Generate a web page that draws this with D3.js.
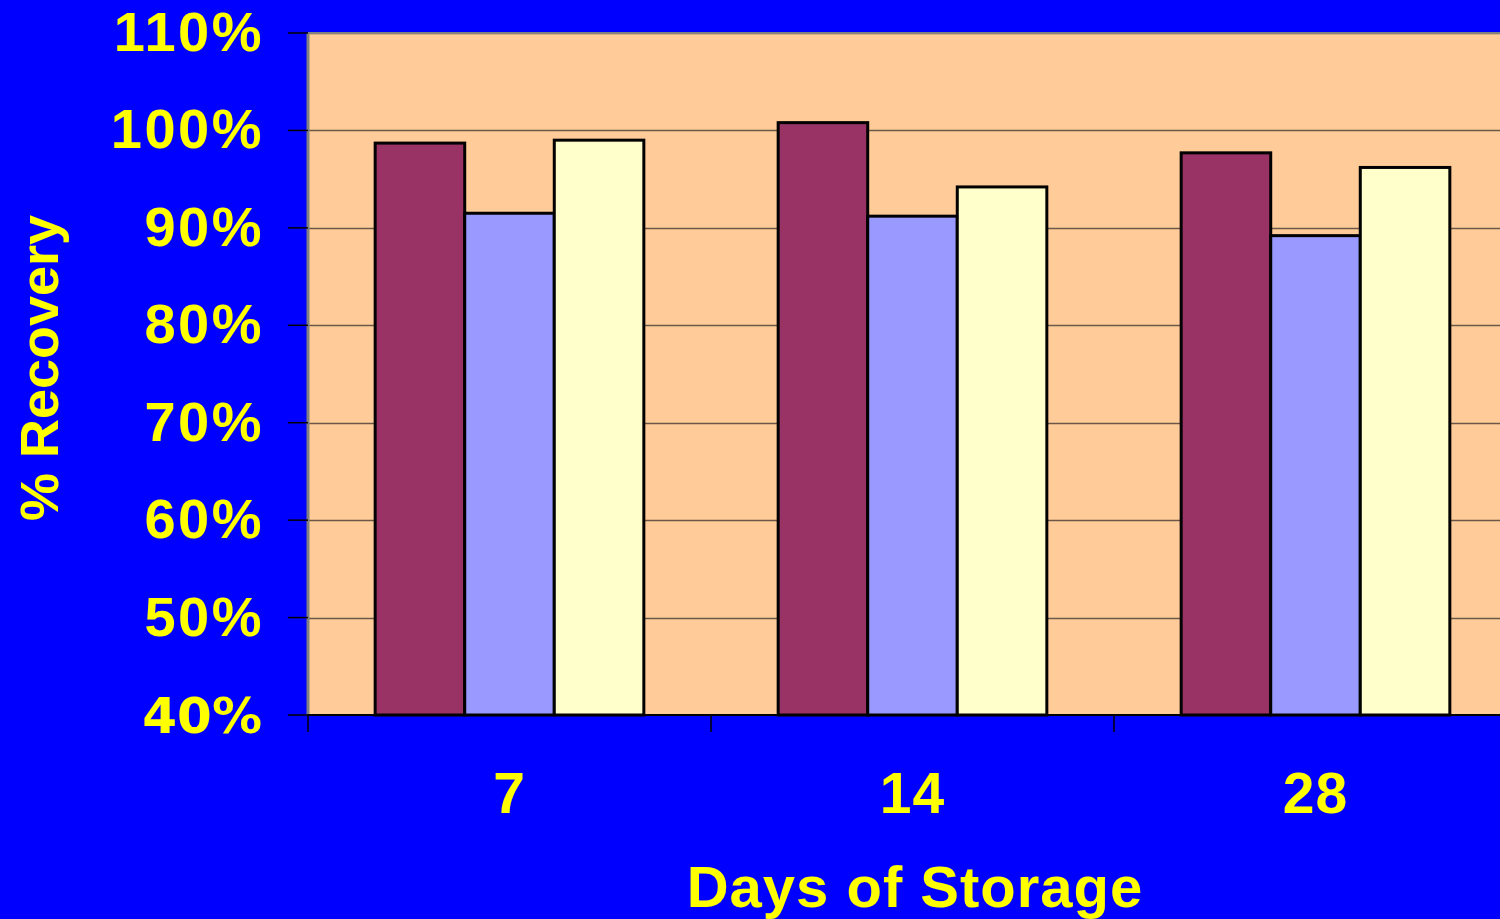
<!DOCTYPE html>
<html>
<head>
<meta charset="utf-8">
<script src="https://cdn.jsdelivr.net/npm/d3@7"></script>
<style>
html,body{margin:0;padding:0;background:#0000FF;overflow:hidden;}
svg{display:block;}
</style>
</head>
<body>
<svg id="chart" width="1500" height="919"></svg>
<script>
const categories = ["7", "14", "28"];
const series = ["A", "B", "C"];
const seriesA = [0.987, 1.008, 0.977];
const seriesB = [0.915, 0.912, 0.892];
const seriesC = [0.990, 0.942, 0.962];
const yTicks = [0.4, 0.5, 0.6, 0.7, 0.8, 0.9, 1.0, 1.1];
const yTickLabels = ["40%", "50%", "60%", "70%", "80%", "90%", "100%", "110%"];
const xTitle = "Days of Storage";
const yTitle = "% Recovery";
const colors = ["#993366", "#9999FF", "#FFFFCC"];

const values = [seriesA, seriesB, seriesC];
const svg = d3.select("#chart");
const W = 1500, H = 919;
svg.append("rect").attr("width", W).attr("height", H).attr("fill", "#0000FF");

const plotL = 308, plotR = 1517, plotT = 33, plotB = 715;

const x = d3.scaleBand().domain(categories).range([plotL, plotR])
  .paddingInner(1/3).paddingOuter(1/6);
const xs = d3.scaleBand().domain(series).range([0, x.bandwidth()]).padding(0);
const y = d3.scaleLinear().domain([0.4, 1.1]).range([plotB, plotT]);

// plot background
svg.append("rect").attr("x", plotL).attr("y", plotT)
  .attr("width", plotR - plotL).attr("height", plotB - plotT)
  .attr("fill", "#FFCC99");

// gridlines
svg.append("g").selectAll("line").data(yTicks.filter(d => d > 0.4)).join("line")
  .attr("x1", plotL).attr("x2", plotR)
  .attr("y1", d => Math.round(y(d)) + 0.5).attr("y2", d => Math.round(y(d)) + 0.5)
  .attr("stroke", "#6b5848").attr("stroke-width", 1.5);

// plot border (top & left gray)
svg.append("line").attr("x1", plotL).attr("x2", plotR).attr("y1", plotT).attr("y2", plotT)
  .attr("stroke", "#808080").attr("stroke-width", 2);
svg.append("line").attr("x1", plotL).attr("x2", plotL).attr("y1", plotT).attr("y2", plotB)
  .attr("stroke", "#808080").attr("stroke-width", 3);

// bars
const groups = svg.append("g").selectAll("g").data(categories).join("g")
  .attr("transform", d => `translate(${x(d)},0)`);
groups.selectAll("rect").data((c, ci) => series.map((s, si) => ({s, si, v: values[si][ci]})))
  .join("rect")
  .attr("x", d => xs(d.s))
  .attr("y", d => y(d.v))
  .attr("width", xs.bandwidth())
  .attr("height", d => y(0.4) - y(d.v))
  .attr("fill", d => colors[d.si])
  .attr("stroke", "#000").attr("stroke-width", 3);

// y axis ticks (black, outward)
svg.append("g").selectAll("line").data(yTicks).join("line")
  .attr("x1", plotL - 20).attr("x2", plotL)
  .attr("y1", d => y(d)).attr("y2", d => y(d))
  .attr("stroke", "#000").attr("stroke-width", 1.5);

// x axis line & ticks
svg.append("line").attr("x1", plotL).attr("x2", plotR).attr("y1", plotB).attr("y2", plotB)
  .attr("stroke", "#000").attr("stroke-width", 2);
svg.append("g").selectAll("line").data(categories).join("line")
  .attr("x1", c => x(c) - (x.step() - x.bandwidth()) / 2)
  .attr("x2", c => x(c) - (x.step() - x.bandwidth()) / 2)
  .attr("y1", plotB).attr("y2", plotB + 17)
  .attr("stroke", "#000").attr("stroke-width", 1.5);

const font = "'Liberation Sans', Arial, sans-serif";
// y tick labels
svg.append("g").selectAll("text").data(yTicks).join("text")
  .attr("x", (d, i) => i === 0 ? 262 : 264).attr("y", d => y(d) + 18)
  .attr("text-anchor", "end")
  .attr("font-family", (d, i) => i === 0 ? "'DejaVu Sans', sans-serif" : font)
  .attr("font-weight", "bold")
  .attr("font-size", (d, i) => i === 0 ? 50 : 56)
  .attr("letter-spacing", (d, i) => i === 0 ? 0 : 2.5)
  .attr("fill", "#FFFF00")
  .text((d, i) => yTickLabels[i]);

// x tick labels
svg.append("g").selectAll("text").data(categories).join("text")
  .attr("x", c => x(c) + x.bandwidth() / 2)
  .attr("y", 813)
  .attr("text-anchor", "middle")
  .attr("font-family", font).attr("font-weight", "bold").attr("font-size", 57)
  .attr("letter-spacing", 1)
  .attr("fill", "#FFFF00")
  .text(c => c);

// x title
svg.append("text").attr("x", 915).attr("y", 907)
  .attr("text-anchor", "middle")
  .attr("font-family", font).attr("font-weight", "bold").attr("font-size", 58)
  .attr("letter-spacing", 1)
  .attr("fill", "#FFFF00").text(xTitle);

// y title
svg.append("text").attr("transform", "translate(58,368) rotate(-90)")
  .attr("text-anchor", "middle")
  .attr("font-family", font).attr("font-weight", "bold").attr("font-size", 54)
  .attr("fill", "#FFFF00").text(yTitle);
</script>
</body>
</html>
